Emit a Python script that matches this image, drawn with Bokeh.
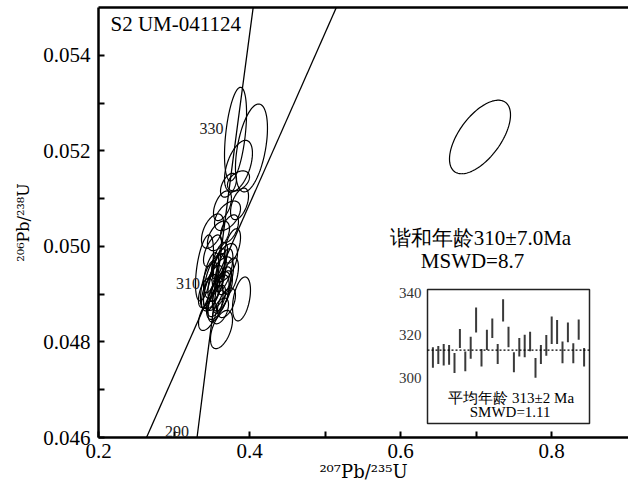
import numpy as np
from bokeh.plotting import figure
from bokeh.models import FixedTicker, LinearAxis, Range1d, Label, PrintfTickFormatter
from bokeh.core.properties import value
from bokeh.embed import file_html
from bokeh.resources import INLINE

# ---------------- data ----------------
sample_name = "S2 UM-041124"

# U-Pb error ellipses: centre (207Pb/235U, 206Pb/238U), half extents and error correlation
ell_x = [0.3815, 0.4026, 0.3854, 0.3722, 0.3854, 0.3642, 0.3868, 0.3709, 0.3510, 0.3589,
         0.3682, 0.3404, 0.3589, 0.3536, 0.3642, 0.3748, 0.3483, 0.3894, 0.3629, 0.3444,
         0.3417, 0.3563, 0.3695, 0.3603, 0.3510, 0.3775, 0.3616, 0.3735, 0.3589, 0.3669,
         0.3520, 0.3570, 0.3620, 0.3490, 0.3660, 0.3550, 0.3600, 0.3460,
         0.7053]
ell_y = [0.05235, 0.05206, 0.05168, 0.05128, 0.05137, 0.05085, 0.05089, 0.05064, 0.05032, 0.05022,
         0.04966, 0.04955, 0.04922, 0.04938, 0.04907, 0.04938, 0.04903, 0.04890, 0.04826, 0.04855,
         0.04903, 0.04886, 0.04882, 0.04970, 0.04991, 0.05001, 0.04865, 0.05037, 0.04897, 0.04928,
         0.04915, 0.04935, 0.04900, 0.04945, 0.04950, 0.04880, 0.04960, 0.04920,
         0.05229]
ell_sx = [0.0146, 0.0212, 0.0185, 0.0106, 0.0146, 0.0119, 0.0119, 0.0172, 0.0146, 0.0146,
          0.0159, 0.0119, 0.0199, 0.0132, 0.0132, 0.0106, 0.0119, 0.0119, 0.0146, 0.0119,
          0.0093, 0.0119, 0.0119, 0.0106, 0.0119, 0.0106, 0.0106, 0.0119, 0.0159, 0.0093,
          0.0130, 0.0120, 0.0110, 0.0100, 0.0120, 0.0100, 0.0090, 0.0110,
          0.0404]
ell_sy = [0.00098, 0.00092, 0.00054, 0.00025, 0.00021, 0.00031, 0.00033, 0.00031, 0.00036, 0.00031,
          0.00040, 0.00069, 0.00056, 0.00046, 0.00042, 0.00038, 0.00038, 0.00046, 0.00040, 0.00031,
          0.00031, 0.00033, 0.00031, 0.00038, 0.00033, 0.00036, 0.00027, 0.00029, 0.00050, 0.00029,
          0.00045, 0.00050, 0.00040, 0.00042, 0.00045, 0.00038, 0.00035, 0.00050,
          0.00077]
ell_rho = [0.45, 0.45, 0.5, 0.5, 0.4, 0.5, 0.5, 0.5, 0.5, 0.5,
           0.5, 0.5, 0.6, 0.6, 0.6, 0.5, 0.5, 0.4, 0.5, 0.5,
           0.5, 0.6, 0.5, 0.6, 0.6, 0.5, 0.5, 0.5, 0.6, 0.5,
           0.6, 0.6, 0.5, 0.6, 0.6, 0.5, 0.6, 0.6,
           0.6]

# concordia curve (age in Ma)
conc_age = [280, 290, 300, 310, 320, 330, 340, 350]
conc_x = [0.3175, 0.3306, 0.3437, 0.3571, 0.3705, 0.3840, 0.3978, 0.4116]
conc_y = [0.04439, 0.04601, 0.04765, 0.04926, 0.05089, 0.05252, 0.05416, 0.05580]
conc_label_ages = [330, 310, 290]

# second (regression) line
line2_x = [0.2636, 0.5150]
line2_y = [0.0460, 0.0550]

x_ticks = [0.2, 0.4, 0.6, 0.8]
x_minor = [0.3, 0.5, 0.7]
y_ticks = [0.046, 0.048, 0.050, 0.052, 0.054]
y_minor = [0.047, 0.049, 0.051, 0.053]
x_title = "²⁰⁷Pb/²³⁵U"
y_title = "²⁰⁶Pb/²³⁸U"

concordia_text = "谐和年龄310±7.0Ma"
concordia_mswd = "MSWD=8.7"

# inset: individual ages (Ma) as error bars low / high, weighted mean
bar_low = [304.7, 306.5, 305.8, 306.1, 302.3, 314.0, 303.1, 308.9, 321.3, 305.3,
           313.1, 318.7, 306.5, 326.5, 314.3, 302.6, 310.0, 309.6, 312.5, 300.0,
           306.5, 310.3, 315.9, 315.9, 306.8, 316.7, 306.8, 317.9, 305.3]
bar_high = [314.3, 314.9, 315.9, 315.4, 311.7, 322.9, 312.3, 319.3, 333.0, 313.5,
            322.6, 327.9, 315.9, 336.9, 324.0, 312.0, 318.7, 320.2, 321.6, 309.3,
            315.4, 320.1, 328.8, 327.2, 317.0, 326.0, 316.2, 327.4, 314.0]
mean_age = 313
inset_ticks = [300, 320, 340]
inset_text = "平均年龄 313±2 Ma"
inset_mswd = "SMWD=1.11"

# ---------------- figure ----------------
SERIF = "Liberation Serif"
TITLE_FONT = "DejaVu Serif"
FRAME_W, FRAME_H = 530, 430
X0, X1 = 0.2, 0.2 + FRAME_W / 755.0
Y0, Y1 = 0.046, 0.055

p = figure(frame_width=FRAME_W, frame_height=FRAME_H,
           x_range=Range1d(X0, X1), y_range=Range1d(Y0, Y1),
           output_backend="svg", toolbar_location=None,
           min_border_left=98, min_border_right=0, min_border_top=7, min_border_bottom=56,
           background_fill_color="white", border_fill_color="white")
p.outline_line_color = None
p.grid.visible = False

top_axis = LinearAxis(ticker=FixedTicker(ticks=[]), major_tick_in=0, major_tick_out=0,
                      minor_tick_in=0, minor_tick_out=0, major_label_standoff=0,
                      axis_label_standoff=0, axis_line_width=2.5,
                      major_label_text_font_size="0px")
p.add_layout(top_axis, "above")

xa = p.below[0]
ya = p.left[0]
xa.ticker = FixedTicker(ticks=x_ticks, minor_ticks=x_minor)
ya.ticker = FixedTicker(ticks=y_ticks, minor_ticks=y_minor)
xa.formatter = PrintfTickFormatter(format="%.1f")
ya.formatter = PrintfTickFormatter(format="%.3f")
for ax in (xa, ya):
    ax.axis_line_width = 2.5
    ax.major_tick_in = 6
    ax.major_tick_out = 0
    ax.minor_tick_in = 6
    ax.minor_tick_out = 0
    ax.major_tick_line_width = 2
    ax.minor_tick_line_width = 2
    ax.major_label_text_font = SERIF
    ax.major_label_text_font_size = "21px"
    ax.major_label_text_color = "black"
    ax.axis_label_text_font = TITLE_FONT
    ax.axis_label_text_font_style = "normal"
    ax.axis_label_text_color = "black"
xa.major_label_standoff = 6
ya.major_label_standoff = 8
xa.axis_label = x_title
xa.axis_label_standoff = 0
xa.axis_label_text_font_size = "18px"
ya.axis_label = y_title
ya.axis_label_standoff = 7
ya.axis_label_text_font_size = "16px"


def px_to_x(px):
    return X0 + (px - 98) * (X1 - X0) / FRAME_W


def py_to_y(py):
    return Y1 - (py - 7) * (Y1 - Y0) / FRAME_H


# error ellipses
t = np.linspace(0, 2 * np.pi, 120)
exs, eys = [], []
for cx, cy, sx, sy, r in zip(ell_x, ell_y, ell_sx, ell_sy, ell_rho):
    exs.append(cx + sx * np.cos(t))
    eys.append(cy + sy * (r * np.cos(t) + np.sqrt(1 - r * r) * np.sin(t)))
p.multi_line(xs=exs, ys=eys, line_color="black", line_width=1.2)

# concordia and second line
p.line(conc_x, conc_y, line_color="black", line_width=1.3)
p.line(line2_x, line2_y, line_color="black", line_width=1.3)

label_offsets = {330: (-14, 3), 310: (-17, 2), 290: (-8, -6)}
for age in conc_label_ages:
    i = conc_age.index(age)
    dx, dy = label_offsets[age]
    p.add_layout(Label(x=conc_x[i], y=conc_y[i], text=str(age), x_offset=dx, y_offset=-dy,
                       text_align="right", text_baseline="middle",
                       text_font=SERIF, text_font_size="16px", text_color="#222222"))

p.add_layout(Label(x=px_to_x(110), y=py_to_y(23), text=sample_name, text_align="left",
                   text_baseline="middle", text_font=SERIF, text_font_size="21px",
                   text_color="black"))
p.add_layout(Label(x=px_to_x(480), y=py_to_y(237), text=concordia_text, text_align="center",
                   text_baseline="middle", text_font=SERIF, text_font_size="21px",
                   text_color="black"))
p.add_layout(Label(x=px_to_x(472), y=py_to_y(260), text=concordia_mswd, text_align="center",
                   text_baseline="middle", text_font=SERIF, text_font_size="21px",
                   text_color="black"))

# ---------------- inset (own scales mapped onto a region of the frame) ----------------
box_l, box_r, box_t, box_b = 329, 491, 282, 416   # inset box inside the frame, px
ins_x0, ins_x1 = 0, len(bar_low) + 1
ins_y0, ins_y1 = 278.5, 341.5
xpp = (ins_x1 - ins_x0) / (box_r - box_l)
xs0 = ins_x0 - box_l * xpp
ypp = (ins_y1 - ins_y0) / (box_b - box_t)
ye1 = ins_y1 + box_t * ypp
p.extra_x_ranges = {"ins_x": Range1d(xs0, xs0 + FRAME_W * xpp)}
p.extra_y_ranges = {"ins_y": Range1d(ye1 - FRAME_H * ypp, ye1)}
kw = dict(x_range_name="ins_x", y_range_name="ins_y")

p.quad(left=[ins_x0], right=[ins_x1], bottom=[ins_y0], top=[ins_y1],
       fill_color="white", line_color="#222222", line_width=1.5, **kw)
idx = list(range(1, len(bar_low) + 1))
p.segment(x0=idx, x1=idx, y0=bar_low, y1=bar_high, line_color="#3a3a3a", line_width=2, **kw)
p.segment(x0=[ins_x0], x1=[ins_x1], y0=[mean_age], y1=[mean_age], line_color="black",
          line_width=1.2, line_dash="2 2", **kw)
p.text(x=[ins_x0] * len(inset_ticks), y=inset_ticks, text=[str(v) for v in inset_ticks],
       x_offset=-6, text_align="right", text_baseline="middle",
       text_font=value(SERIF), text_font_size=value("15px"), text_color="#333333", **kw)
p.text(x=[15.5, 15.3], y=[290.7, 283.7], text=[inset_text, inset_mswd],
       text_align="center", text_baseline="middle",
       text_font=value(SERIF), text_font_size=value("15px"), text_color="black", **kw)

open("out.html", "w").write(file_html(p, INLINE))
